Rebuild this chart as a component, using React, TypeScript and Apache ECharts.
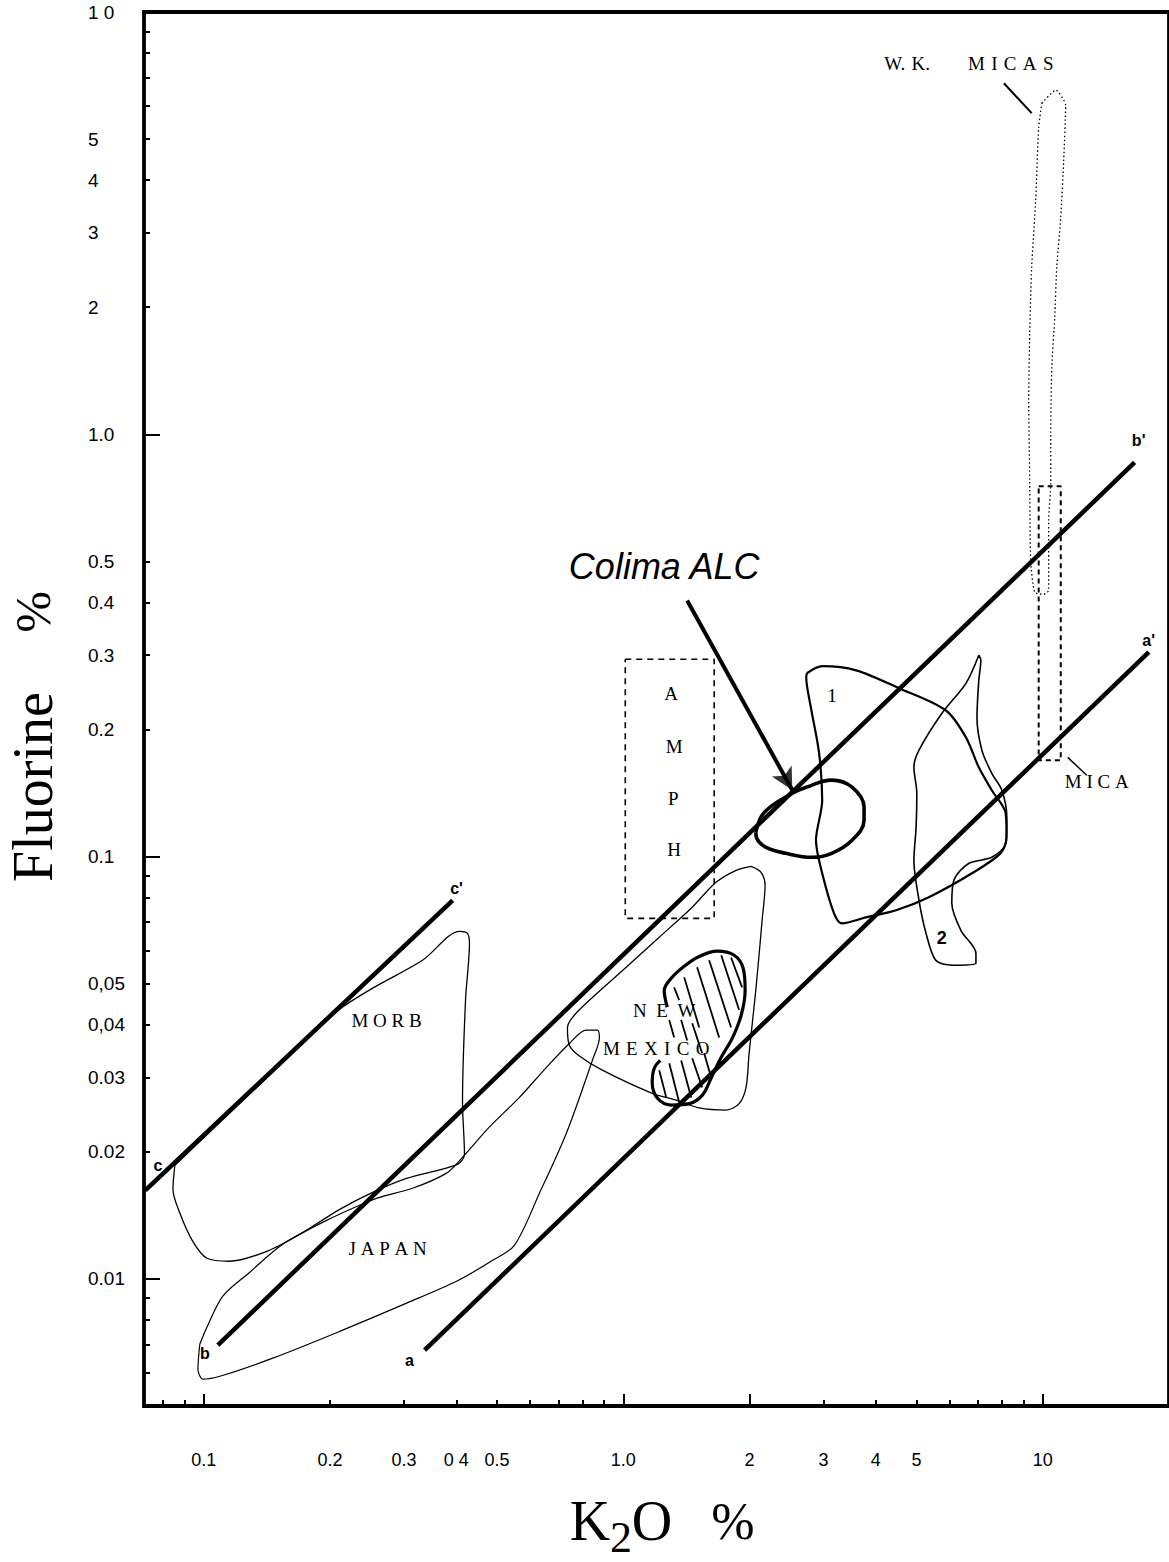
import React, { useEffect, useRef } from "react";
import * as echarts from "echarts";

// ---------- axes ----------
const X_MIN = 0.072;
const X_MAX = 20;
const Y_MIN = 0.005;
const Y_MAX = 10;

const xLabelValues = [0.1, 0.2, 0.3, 0.4, 0.5, 1, 2, 3, 4, 5, 10];
const xLabelTexts = ["0.1", "0.2", "0.3", "0 4", "0.5", "1.0", "2", "3", "4", "5", "10"];
const xMinorTicks = [0.08, 0.09, 0.1, 0.2, 0.3, 0.4, 0.5, 0.6, 0.7, 0.8, 0.9, 1, 2, 3, 4, 5, 6, 7, 8, 9, 10];
const xMajorTicks = [0.1, 1, 2, 10];

const yLabelValues = [10, 5, 4, 3, 2, 1, 0.5, 0.4, 0.3, 0.2, 0.1, 0.05, 0.04, 0.03, 0.02, 0.01];
const yLabelTexts = ["1 0", "5", "4", "3", "2", "1.0", "0.5", "0.4", "0.3", "0.2", "0.1", "0,05", "0,04", "0.03", "0.02", "0.01"];
const yMinorTicks = [9, 8, 7, 6, 5, 4, 3, 2, 1, 0.5, 0.4, 0.3, 0.2, 0.1, 0.09, 0.08, 0.07, 0.06, 0.05, 0.04, 0.03, 0.02, 0.01, 0.009, 0.008, 0.007, 0.006];
const yMajorTicks = [1, 0.1, 0.01];

// ---------- reference lines [K2O %, F %] ----------
const lineC = [[0.0725, 0.0162], [0.392, 0.0788]];
const lineB = [[0.108, 0.00697], [16.56, 0.858]];
const lineA = [[0.336, 0.00678], [17.9, 0.305]];
const colimaArrow = [[1.42, 0.404], [2.53, 0.1436]];
const colimaPoint = [2.53, 0.1436];
const wkLeader = [[8.08, 6.78], [9.41, 5.76]];
const micaLeader = [[11.47, 0.1718], [12.73, 0.1558]];

// ---------- fields ----------
const morbOutline = [
  [0.0853, 0.01858], [0.0844, 0.01631], [0.0877, 0.0143], [0.0941, 0.01227], [0.1017, 0.01119],
  [0.1153, 0.01101], [0.1413, 0.01162], [0.1693, 0.01275], [0.2108, 0.01461], [0.2526, 0.01603],
  [0.3043, 0.0173], [0.4025, 0.01868], [0.4182, 0.01972], [0.4137, 0.02619], [0.4206, 0.0457],
  [0.4298, 0.0623], [0.4251, 0.0658], [0.407, 0.0665], [0.3322, 0.0568], [0.2526, 0.0488],
  [0.2108, 0.0435], [0.1721, 0.0361], [0.0853, 0.01858],
];

const japanOutline = [
  [0.0978, 0.007], [0.0968, 0.00611], [0.0995, 0.00579], [0.1092, 0.00588], [0.146, 0.00649],
  [0.2108, 0.00751], [0.3043, 0.00876], [0.4003, 0.00987], [0.4797, 0.01095], [0.5499, 0.01201],
  [0.631, 0.01595], [0.7316, 0.02213], [0.8437, 0.0329], [0.877, 0.0373], [0.867, 0.0388],
  [0.816, 0.0388], [0.744, 0.0361], [0.656, 0.0317], [0.5655, 0.0269], [0.4797, 0.0229],
  [0.4137, 0.0194], [0.379, 0.0178], [0.3145, 0.01639], [0.2624, 0.0156], [0.2351, 0.01494],
  [0.1963, 0.01376], [0.1542, 0.01208], [0.1287, 0.01037], [0.111, 0.0091], [0.1017, 0.00768],
  [0.0978, 0.007],
];

const newMexicoOutline = [
  [2.018, 0.0948], [2.131, 0.0918], [2.178, 0.0855], [2.143, 0.0707], [2.073, 0.049],
  [1.995, 0.0342], [1.962, 0.0284], [1.889, 0.026], [1.759, 0.0251], [1.517, 0.0254],
  [1.337, 0.0265], [1.172, 0.0275], [0.891, 0.0312], [0.786, 0.0337], [0.744, 0.0357],
  [0.736, 0.0394], [0.764, 0.0421], [0.844, 0.0464], [1.016, 0.0547], [1.218, 0.0644],
  [1.46, 0.0759], [1.664, 0.0869], [1.858, 0.0928], [2.018, 0.0948],
];

const hatchedOutline = [
  [1.273, 0.044], [1.252, 0.0482], [1.301, 0.0515], [1.397, 0.055], [1.517, 0.058],
  [1.674, 0.0597], [1.838, 0.0584], [1.931, 0.0544], [1.952, 0.0482], [1.91, 0.0421],
  [1.818, 0.0371], [1.712, 0.0335], [1.62, 0.0299], [1.542, 0.0272], [1.436, 0.026],
  [1.301, 0.0258], [1.205, 0.0268], [1.172, 0.0292], [1.185, 0.0315], [1.225, 0.0329],
];

const hatchSegments = [
  [[1.322, 0.049], [1.359, 0.0457]],
  [[1.397, 0.0518], [1.517, 0.0394]],
  [[1.5, 0.0547], [1.693, 0.0373]],
  [[1.602, 0.0568], [1.807, 0.0394]],
  [[1.712, 0.0584], [1.889, 0.0433]],
  [[1.807, 0.0577], [1.92, 0.049]],
  [[1.287, 0.041], [1.322, 0.0373]],
  [[1.374, 0.041], [1.42, 0.0367]],
  [[1.46, 0.0403], [1.542, 0.0342]],
  [[1.218, 0.0312], [1.266, 0.0269]],
  [[1.287, 0.0324], [1.359, 0.0262]],
  [[1.374, 0.0329], [1.452, 0.0269]],
  [[1.46, 0.0333], [1.542, 0.0284]],
  [[1.559, 0.0342], [1.62, 0.03]],
];

const colimaOutline = [
  [2.07, 0.1142], [2.17, 0.1273], [2.53, 0.1413], [2.73, 0.146], [3.14, 0.1517], [3.51, 0.146],
  [3.75, 0.131], [3.75, 0.122], [3.51, 0.1093], [3.14, 0.1018], [2.82, 0.0996], [2.44, 0.1018],
  [2.19, 0.1052], [2.08, 0.1105], [2.07, 0.1142],
];

const field1Outline = [
  [2.74, 0.2717], [2.98, 0.2824], [3.59, 0.2761], [4.54, 0.2505], [5.87, 0.2221], [6.56, 0.1916],
  [7.04, 0.1627], [7.56, 0.1436], [8.16, 0.1266], [8.2, 0.1111], [7.94, 0.1019], [6.78, 0.0913],
  [5.35, 0.0801], [4.47, 0.0746], [3.79, 0.0718], [3.32, 0.0695], [3.18, 0.0734], [2.98, 0.0913],
  [2.88, 0.1093], [2.98, 0.1359], [2.93, 0.1756], [2.8, 0.2257], [2.73, 0.2658], [2.74, 0.2717],
];

const field2Outline = [
  [7.04, 0.2997], [6.56, 0.2572], [5.75, 0.2184], [5.07, 0.1786], [4.93, 0.1627], [5.01, 0.1412],
  [4.99, 0.1173], [4.93, 0.098], [5.07, 0.0788], [5.27, 0.0658], [5.56, 0.0568], [6.07, 0.0553],
  [6.93, 0.0559], [6.93, 0.059], [6.38, 0.0669], [6.07, 0.0775], [6.14, 0.0879], [6.67, 0.0964],
  [7.56, 0.0996], [8.16, 0.1075], [8.21, 0.1239], [7.99, 0.1436], [7.56, 0.1575], [7.16, 0.1786],
  [6.97, 0.2137], [7.04, 0.2615], [7.12, 0.2916], [7.04, 0.2997],
];

const wkMicasOutline = [
  [9.95, 6.08], [10.74, 6.53], [11.34, 6.01], [11.22, 4.46], [11.04, 3.27], [10.8, 2.486],
  [10.68, 1.892], [10.51, 1.441], [10.45, 1.005], [10.45, 0.7655], [10.33, 0.6256], [10.33, 0.427],
  [10.06, 0.418], [9.57, 0.4225], [9.36, 0.503], [9.31, 0.778], [9.26, 1.204], [9.31, 1.735],
  [9.41, 2.486], [9.62, 3.58], [9.78, 5.33], [9.95, 6.08],
];

const amphBox = [[1.011, 0.2933], [1.647, 0.2933], [1.647, 0.0714], [1.011, 0.0714], [1.011, 0.2933]];
const micaBox = [[9.78, 0.753], [11.04, 0.753], [11.04, 0.169], [9.78, 0.169], [9.78, 0.753]];

// ---------- labels ----------
const fieldLabelNames = [
  "M\u2005O\u2005R\u2005B",
  "J\u2005A\u2005P\u2005A\u2005N",
  "N\u2002E\u2002W",
  "M\u2004E\u2004X\u2004I\u2004C\u2004O",
  "A", "M", "P", "H",
  "1",
  "W.\u2004K.\u2003\u2003M\u2004I\u2004C\u2004A\u2004S",
  "M\u2005I\u2005C\u2005A",
];
const fieldLabelPos = [
  [0.2727, 0.041], [0.2742, 0.01181], [1.252, 0.0433], [1.198, 0.0352],
  [1.301, 0.2435], [1.322, 0.1825], [1.315, 0.1374], [1.322, 0.1041],
  [3.146, 0.241], [6.666, 7.56], [13.45, 0.1508],
];
const sansFieldLabelNames = ["2"];
const sansFieldLabelPos = [[5.747, 0.064]];
const lineEndNames = ["c", "c'", "b", "b'", "a", "a'"];
const lineEndPos = [[0.0777, 0.01858], [0.4003, 0.0841], [0.1006, 0.00666], [16.93, 0.968], [0.3093, 0.00642], [17.88, 0.3253]];
const calloutName = "Colima ALC";
const calloutPos = [1.252, 0.4868];

const SERIF = '"Liberation Serif", "Times New Roman", Times, serif';
const SANS = '"Liberation Sans", Arial, Helvetica, sans-serif';
const INK = "#000";

function pick(v: number, vals: number[], texts: string[]) {
  for (let i = 0; i < vals.length; i++) {
    if (Math.abs(v - vals[i]) <= Math.abs(vals[i]) * 1e-6) return texts[i];
  }
  return "";
}

function outline(name: string, data: number[][], width: number, type: any = "solid", smooth: number = 0.3, z = 3) {
  return {
    type: "line",
    name,
    xAxisIndex: 0,
    yAxisIndex: 0,
    data,
    symbol: "none",
    showSymbol: false,
    smooth,
    silent: true,
    z,
    lineStyle: { color: INK, width, type },
  };
}

function labelSeries(name: string, names: string[], pos: number[][], label: any) {
  return {
    type: "scatter",
    name,
    xAxisIndex: 0,
    yAxisIndex: 0,
    symbol: "circle",
    symbolSize: 1,
    silent: true,
    z: 10,
    itemStyle: { color: "rgba(0,0,0,0)" },
    data: pos.map((p, i) => ({ value: [p[0], p[1]], name: names[i] })),
    label: {
      show: true,
      position: "inside",
      formatter: (p: any) => p.name,
      color: INK,
      opacity: 1,
      textBorderWidth: 0,
      textBorderColor: "transparent",
      ...label,
    },
  };
}

function titleText(text: string, x: number, y: number, size: number, rotation = 0) {
  return {
    type: "text",
    x,
    y,
    rotation,
    style: {
      text,
      font: `${size}px ${SERIF}`,
      fill: INK,
      align: "center",
      verticalAlign: "middle",
      textAlign: "center",
      textVerticalAlign: "middle",
    },
  };
}

function buildOption() {
  return {
    animation: false,
    backgroundColor: "#fff",
    grid: { left: 144, top: 12, width: 1027, height: 1394, show: true, borderColor: INK, borderWidth: 3.8, backgroundColor: "transparent" },
    xAxis: [
      {
        type: "log", logBase: 10, min: X_MIN, max: X_MAX, position: "bottom",
        axisLine: { show: false }, splitLine: { show: false }, minorTick: { show: false },
        axisTick: { show: true, inside: true, length: 6, customValues: xMinorTicks, lineStyle: { color: INK, width: 2 } },
        axisLabel: {
          show: true, customValues: xLabelValues, margin: 45, fontSize: 18, fontFamily: SANS, color: INK,
          formatter: (v: number) => pick(v, xLabelValues, xLabelTexts),
        },
      },
      {
        type: "log", logBase: 10, min: X_MIN, max: X_MAX, position: "bottom",
        axisLine: { show: false }, splitLine: { show: false }, axisLabel: { show: false },
        axisTick: { show: true, inside: true, length: 12, customValues: xMajorTicks, lineStyle: { color: INK, width: 2 } },
      },
    ],
    yAxis: [
      {
        type: "log", logBase: 10, min: Y_MIN, max: Y_MAX, position: "left",
        axisLine: { show: false }, splitLine: { show: false }, minorTick: { show: false },
        axisTick: { show: true, inside: true, length: 6, customValues: yMinorTicks, lineStyle: { color: INK, width: 2 } },
        axisLabel: {
          show: true, customValues: yLabelValues, margin: 56, align: "left", fontSize: 19, fontFamily: SANS, color: INK,
          formatter: (v: number) => pick(v, yLabelValues, yLabelTexts),
        },
      },
      {
        type: "log", logBase: 10, min: Y_MIN, max: Y_MAX, position: "left",
        axisLine: { show: false }, splitLine: { show: false }, axisLabel: { show: false },
        axisTick: { show: true, inside: true, length: 16, customValues: yMajorTicks, lineStyle: { color: INK, width: 2 } },
      },
    ],
    graphic: [
      titleText("Fluorine", 33, 787, 56, Math.PI / 2),
      titleText("%", 33, 612, 50, Math.PI / 2),
      titleText("K", 590, 1521, 56),
      titleText("2", 621, 1537, 44),
      titleText("O", 652, 1521, 56),
      titleText("%", 733, 1521, 52),
    ],
    series: [
      outline("W.K. micas", wkMicasOutline, 1.3, [1.5, 2.5], 0.2, 2),
      outline("Mica", micaBox, 2, [5, 4], 0, 2),
      outline("Amphibole", amphBox, 1.6, [6, 5], 0, 2),
      outline("MORB", morbOutline, 1.3),
      outline("Japan", japanOutline, 1.2),
      outline("New Mexico", newMexicoOutline, 1.3),
      outline("New Mexico (hatched)", hatchedOutline, 3.2, "solid", 0.35),
      {
        type: "lines", name: "hatching", coordinateSystem: "cartesian2d", xAxisIndex: 0, yAxisIndex: 0,
        silent: true, z: 3, polyline: false,
        lineStyle: { color: INK, width: 1.8, opacity: 1 },
        data: hatchSegments.map((s) => ({ coords: s })),
      },
      outline("1", field1Outline, 2.2),
      outline("2", field2Outline, 1.6),
      outline("Colima ALC", colimaOutline, 3.6, "solid", 0.4),
      outline("c-c'", lineC, 4.5, "solid", 0, 4),
      outline("b-b'", lineB, 4.5, "solid", 0, 4),
      outline("a-a'", lineA, 4.5, "solid", 0, 4),
      outline("Colima arrow", colimaArrow, 4, "solid", 0, 5),
      outline("W.K. leader", wkLeader, 2, "solid", 0, 5),
      outline("Mica leader", micaLeader, 1.5, "solid", 0, 5),
      {
        type: "scatter", name: "Colima point", xAxisIndex: 0, yAxisIndex: 0, silent: true, z: 6,
        symbol: "arrow", symbolSize: [17, 22], symbolRotate: -151,
        itemStyle: { color: INK },
        data: [colimaPoint],
      },
      labelSeries("field labels", fieldLabelNames, fieldLabelPos, { fontFamily: SERIF, fontSize: 19 }),
      labelSeries("field labels sans", sansFieldLabelNames, sansFieldLabelPos, { fontFamily: SANS, fontSize: 18, fontWeight: "bold" }),
      labelSeries("line ends", lineEndNames, lineEndPos, { fontFamily: SANS, fontSize: 16, fontWeight: "bold" }),
      labelSeries("callout", [calloutName], [calloutPos], { fontFamily: SANS, fontSize: 36, fontStyle: "italic" }),
    ],
  };
}

export default function App() {
  const ref = useRef<HTMLDivElement>(null);
  useEffect(() => {
    if (!ref.current) return;
    const chart = echarts.init(ref.current, null, { renderer: "svg" });
    chart.setOption(buildOption() as any);
    return () => chart.dispose();
  }, []);
  return (
    <div
      ref={ref}
      style={{ position: "absolute", left: 0, top: 0, width: 1169, height: 1562, background: "#fff" }}
    />
  );
}
